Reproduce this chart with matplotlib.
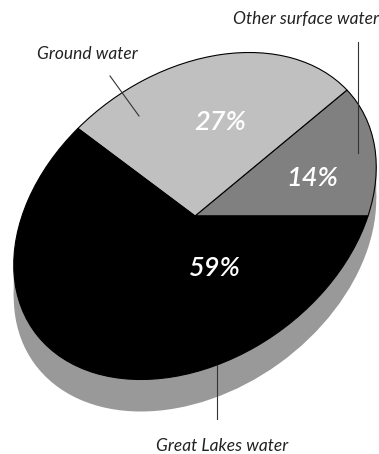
import numpy as np
import matplotlib
matplotlib.use('Agg')
from matplotlib import pyplot as plt
from matplotlib.patches import Circle, Polygon
from matplotlib.transforms import Affine2D

## data ##
labels = ['Other surface water', 'Ground water', 'Great Lakes water']
shares = [14, 27, 59]
pct_labels = ['14%', '27%', '59%']
colors = ['#808080', '#c0c0c0', '#000000']

## layout (pixel coords, y down) ##
W, H = 379, 454
cx, cy = 195, 216
# unit circle -> tilted ellipse on the page
M = np.array([[173.0, 54.1, cx],
              [0.0, -163.5, cy],
              [0.0, 0.0, 1.0]])
depth = 32
shadow_col = '#999999'
font = 'Lato'

fig = plt.figure(figsize=(W/100, H/100), dpi=100)
ax = fig.add_axes([0, 0, 1, 1])

wedges, _ = ax.pie(shares, colors=colors, startangle=0, counterclock=True,
                   wedgeprops=dict(edgecolor='black', linewidth=0.8))
ax.set_aspect('auto')
ax.set_xlim(0, W)
ax.set_ylim(H, 0)
ax.axis('off')

tilt = Affine2D(M)
for w in wedges:
    w.set_transform(tilt + ax.transData)
    w.set_zorder(3)

# extrusion under the pie
sh = Circle((0, 0), 1, facecolor=shadow_col, edgecolor='none', zorder=1,
            transform=Affine2D(M).translate(0, depth) + ax.transData)
ax.add_patch(sh)
t0 = np.arctan2(M[0, 1], M[0, 0])
R = M[:2, :2] @ np.array([np.cos(t0), np.sin(t0)]) + [cx, cy]
L = 2*np.array([cx, cy]) - R
quad = Polygon([L, R, R + [0, depth], L + [0, depth]], closed=True,
               facecolor=shadow_col, edgecolor='none', zorder=1)
ax.add_patch(quad)

# percentages
pct_pos = [(312, 178), (220, 122), (215, 269)]
for (x, y), s in zip(pct_pos, pct_labels):
    ax.text(x, y, s, color='white', fontsize=19.5, fontstyle='italic',
            fontweight='semibold', family=font, ha='center', va='center', zorder=5)

# outer labels + leader lines
lab_pos = [(306, 19), (87, 54), (222, 446)]
lines = [((358, 358), (42, 153)), ((110, 139), (76, 116)), ((217, 217), (365, 419))]
for (x, y), s, (lx, ly) in zip(lab_pos, labels, lines):
    ax.text(x, y, s, color='#222222', fontsize=12.5, fontstyle='italic',
            family=font, ha='center', va='center', zorder=5)
    ax.plot(lx, ly, color='#333333', lw=0.8, zorder=4)

fig.savefig('out.png', dpi=100)
